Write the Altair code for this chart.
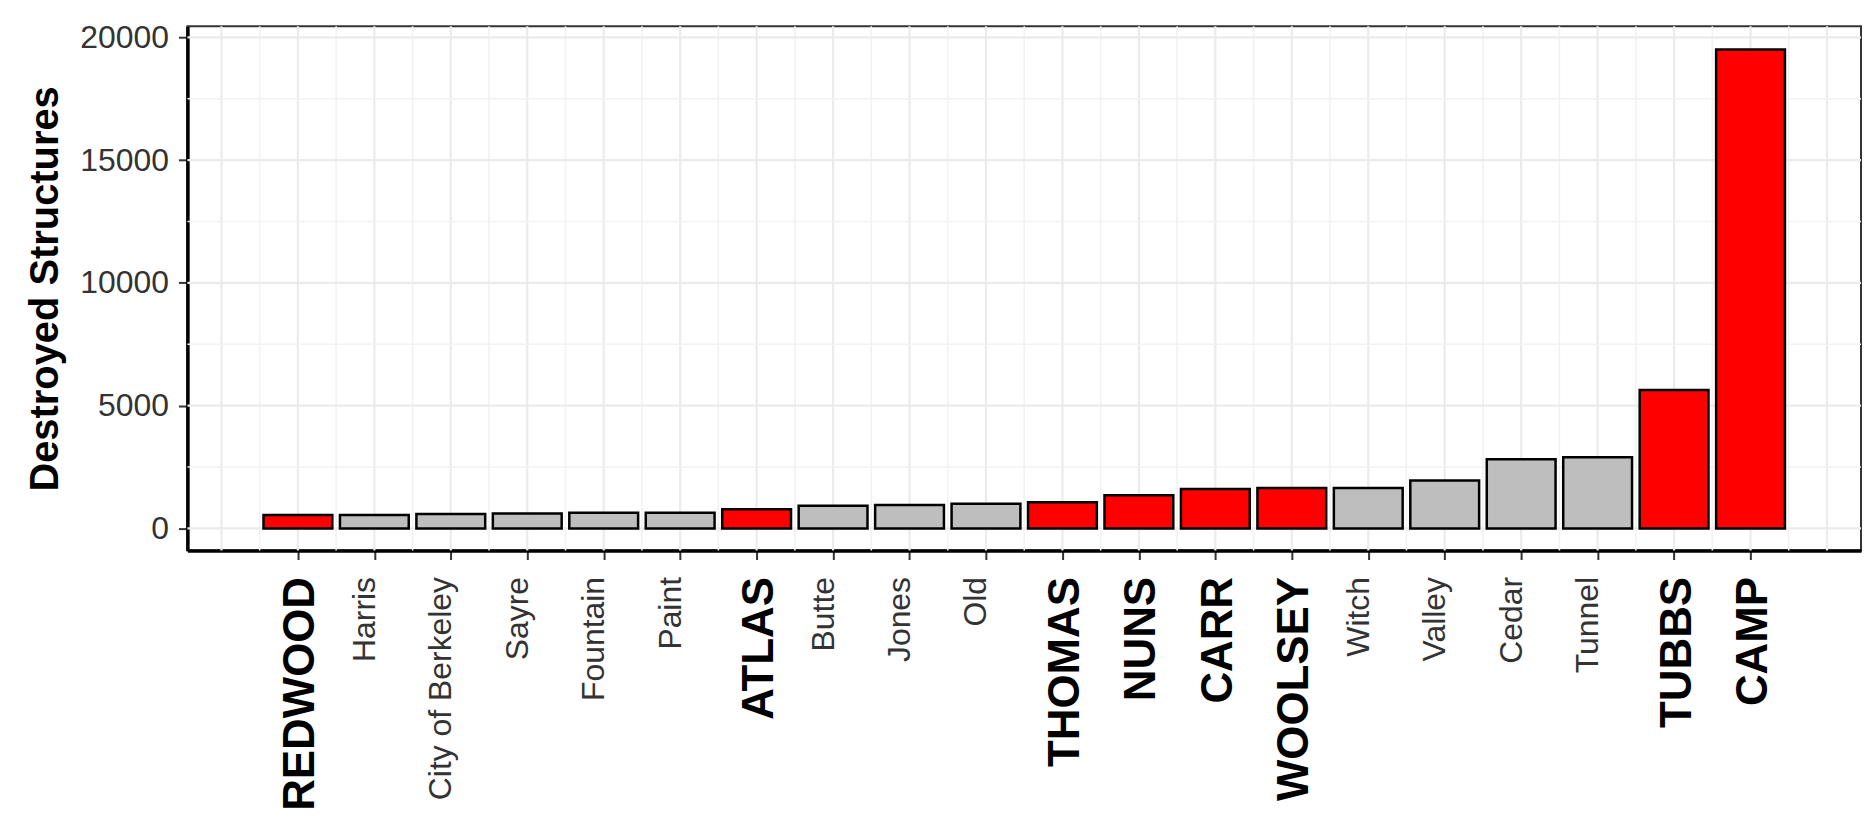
import json
import altair as alt
import pandas as pd

# ---- data ----
names = ["REDWOOD", "Harris", "City of Berkeley", "Sayre", "Fountain", "Paint",
         "ATLAS", "Butte", "Jones", "Old", "THOMAS", "NUNS", "CARR", "WOOLSEY",
         "Witch", "Valley", "Cedar", "Tunnel", "TUBBS", "CAMP"]
values = [546, 548, 584, 604, 636, 641, 783, 921, 954, 1003, 1063, 1355, 1604,
          1643, 1650, 1955, 2820, 2900, 5636, 19500]
highlight = [1, 0, 0, 0, 0, 0, 1, 0, 0, 0, 1, 1, 1, 1, 0, 0, 0, 0, 1, 1]
y_ticks = [0, 5000, 10000, 15000, 20000]

df = pd.DataFrame({"idx": list(range(len(names))), "name": names,
                   "value": values, "hl": highlight})

W, H = 1679, 526
FONT = "Liberation Sans"
xscale = alt.Scale(domain=[-1.445, 20.445], nice=False, zero=False)
yscale = alt.Scale(domain=[-900, 20450], nice=False, zero=False)

names_js = json.dumps(names)
is_hl = f"{json.dumps(highlight)}[datum.value] == 1"

xaxis = alt.Axis(
    values=list(range(len(names))),
    labelExpr=f"{names_js}[datum.value]",
    labelAngle=270, labelAlign="right", labelBaseline="alphabetic",
    labelFont=FONT, labelLimit=0,
    labelFontSize={"condition": {"test": is_hl, "value": 44}, "value": 32},
    labelFontWeight={"condition": {"test": is_hl, "value": "bold"}, "value": "normal"},
    labelColor={"condition": {"test": is_hl, "value": "#000000"}, "value": "#333333"},
    labelOffset={"condition": {"test": is_hl, "value": 16}, "value": 0},
    labelPadding=17, labelOverlap=False, labelFlush=False, labelBound=False,
    tickSize=9, tickColor="#333333", tickWidth=2,
    domainColor="#000000", domainWidth=3.5,
    grid=False, title=None,
)

yaxis = alt.Axis(
    values=y_ticks, format="d",
    labelFont=FONT, labelFontSize=32, labelColor="#333333", labelPadding=10,
    tickSize=9, tickColor="#333333", tickWidth=2,
    domainColor="#000000", domainWidth=3.5, grid=False,
    title="Destroyed Structures", titleFont=FONT, titleFontSize=40,
    titleFontWeight="bold", titleColor="#000000", titleAngle=270,
    titleAlign="center", titleBaseline="alphabetic", titleX=-130, titleY=H / 2,
)

grid_major_x = alt.Chart(alt.sequence(-1, 21, 1)).mark_rule(
    color="#EBEBEB", strokeWidth=2.2).encode(
    x=alt.X("data:Q", scale=xscale, axis=xaxis))
grid_minor_x = alt.Chart(alt.sequence(-0.5, 20, 1)).mark_rule(
    color="#F2F2F2", strokeWidth=1.6).encode(
    x=alt.X("data:Q", scale=xscale, axis=xaxis))
grid_major_y = alt.Chart(alt.sequence(0, 20001, 5000)).mark_rule(
    color="#EBEBEB", strokeWidth=2.2).encode(
    y=alt.Y("data:Q", scale=yscale, axis=yaxis))
grid_minor_y = alt.Chart(alt.sequence(2500, 20000, 5000)).mark_rule(
    color="#F2F2F2", strokeWidth=1.6).encode(
    y=alt.Y("data:Q", scale=yscale, axis=yaxis))

bars = alt.Chart(df).transform_calculate(
    x0="datum.idx - 0.45", x1="datum.idx + 0.45"
).mark_rect(stroke="#000000", strokeWidth=2.5).encode(
    x=alt.X("x0:Q", scale=xscale, axis=xaxis),
    x2="x1:Q",
    y=alt.Y("value:Q", scale=yscale, axis=yaxis),
    y2=alt.datum(0),
    fill=alt.Fill("hl:N", scale=alt.Scale(domain=[1, 0], range=["#FF0000", "#BEBEBE"]),
                  legend=None),
)

chart = alt.layer(grid_major_x, grid_minor_x, grid_major_y, grid_minor_y, bars).properties(
    width=W, height=H,
    autosize=alt.AutoSizeParams(type="none"),
    padding={"left": 180, "top": 17, "right": 3, "bottom": 262},
    background="white",
).configure_view(stroke="#333333", strokeWidth=2)

chart.save("out.html", embed_options={"renderer": "svg", "actions": False})
